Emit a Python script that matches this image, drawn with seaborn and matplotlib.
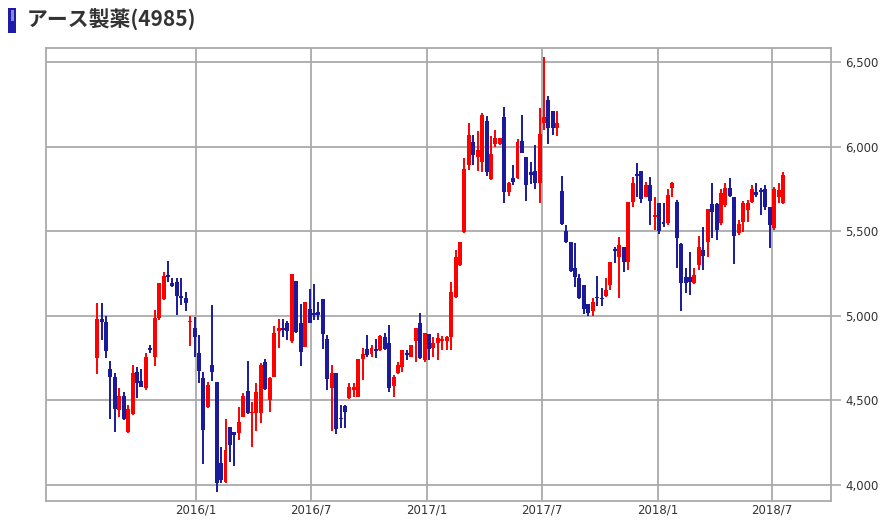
import numpy as np
import pandas as pd
import matplotlib
matplotlib.use("Agg")
import matplotlib.pyplot as plt
import matplotlib.dates as mdates
from matplotlib.patches import Rectangle
import seaborn as sns

# ---- data (weekly candles) ----
start_date = "2015-07-29"
opens = [4749, 4979, 4965, 4686, 4636, 4443, 4528, 4315, 4420, 4670, 4615, 4571, 4808, 4759, 4985, 5097, 5239, 5192, 5202, 5117,
         5107, 4962, 4930, 4782, 4631, 4459, 4709, 4607, 4128, 4020, 4341, 4311, 4305, 4404, 4558, 4424, 4424, 4424,
         4729, 4503, 4641, 4912, 4926, 4956, 4851, 5206, 4956, 4818, 5038, 5019, 5025, 5100, 4863, 4572, 4660, 4398, 4469,
         4512, 4562, 4522, 4743, 4802, 4775, 4802, 4798, 4873, 4841, 4585, 4660, 4700, 4778, 4759, 4851, 4960, 4739, 4893, 4808,
         4838, 4848, 4853, 4877,
         5113, 5300, 5497, 5891, 6029, 5941, 5911, 6153, 5807, 6015, 6015, 6177, 5734, 5813, 5813, 6035, 5941, 5852, 5858, 5783,
         6142, 6275, 6210, 6108, 5740, 5503, 5438, 5285, 5222, 5182, 5070, 5030, 5113, 5107, 5117,
         5182, 5395, 5346, 5405, 5320, 5675, 5836, 5858, 5704, 5773, 5586, 5665, 5553, 5547, 5753, 5675, 5425, 5231, 5231, 5196,
         5300, 5389, 5438, 5659, 5659, 5547, 5655, 5753, 5700, 5492, 5557, 5625, 5675, 5734, 5744, 5748, 5645, 5517, 5700, 5665]
highs = [5078, 5078, 5000, 4735, 4660, 4575, 4552, 4471, 4709, 4696, 4686, 4778, 4828, 5034, 5192, 5261, 5326, 5222, 5222, 5222,
         5139, 4999, 4991, 4887, 4670, 4611, 5064, 4611, 4227, 4388, 4341, 4315, 4463, 4542, 4735, 4493, 4601, 4719,
         4743, 4641, 4940, 4979, 4979, 4970, 5245, 5206, 5070, 5084, 5157, 5188, 5084, 5100, 4887, 4709, 4660, 4473, 4473,
         4605, 4605, 4743, 4808, 4887, 4828, 4861, 4887, 4900, 4946, 4650, 4729, 4798, 4798, 4828, 4926, 5019, 4897, 4893, 4877,
         4900, 4880, 4881, 5202,
         5389, 5438, 5931, 6142, 6069, 6092, 6197, 6181, 6063, 6098, 6049, 6236, 5793, 5891, 6043, 6187, 5941, 5907, 6010, 6226,
         6532, 6299, 6210, 6210, 5828, 5537, 5438, 5428, 5247, 5182, 5070, 5107, 5237, 5163, 5222,
         5316, 5409, 5468, 5405, 5675, 5822, 5901, 5858, 5793, 5822, 5704, 5665, 5669, 5748, 5793, 5685, 5428, 5281, 5379, 5281,
         5472, 5527, 5629, 5783, 5665, 5748, 5787, 5813, 5700, 5566, 5681, 5685, 5773, 5787, 5753, 5773, 5645, 5760, 5787, 5852]
lows = [4656, 4857, 4749, 4388, 4315, 4404, 4384, 4305, 4414, 4512, 4577, 4562, 4782, 4705, 4975, 5093, 5202, 5172, 5005, 5064,
        5030, 4824, 4759, 4601, 4122, 4453, 4617, 3961, 4010, 4010, 4138, 4112, 4266, 4404, 4420, 4227, 4320, 4365,
        4562, 4434, 4637, 4808, 4873, 4857, 4841, 4900, 4704, 4814, 4956, 4975, 4975, 4802, 4562, 4316, 4302, 4335, 4335,
        4507, 4518, 4518, 4621, 4755, 4759, 4749, 4794, 4798, 4548, 4522, 4656, 4670, 4739, 4755, 4729, 4745, 4729, 4739, 4759,
        4740, 4800, 4800, 4798,
        5103, 5294, 5491, 5862, 5891, 5858, 5852, 5826, 5803, 6000, 6010, 5669, 5708, 5773, 5809, 5960, 5679, 5779, 5748, 5669,
        6098, 6014, 6069, 6063, 5537, 5432, 5261, 5172, 5097, 5009, 5001, 5001, 5060, 5060, 5109,
        5153, 5310, 5103, 5261, 5271, 5645, 5704, 5665, 5700, 5537, 5507, 5484, 5523, 5537, 5704, 5281, 5030, 5137, 5123, 5190,
        5271, 5271, 5350, 5458, 5448, 5537, 5645, 5704, 5306, 5478, 5497, 5557, 5665, 5704, 5596, 5625, 5399, 5507, 5665, 5660]
closes = [4979, 4965, 4794, 4636, 4447, 4528, 4388, 4447, 4660, 4605, 4581, 4759, 4798, 4985, 5192, 5235, 5231, 5176, 5119, 5107,
          5074, 4971, 4873, 4674, 4325, 4591, 4666, 4010, 4030, 4207, 4237, 4296, 4374, 4528, 4424, 4433, 4552, 4709,
          4566, 4631, 4901, 4926, 4916, 4912, 5245, 4906, 4784, 5084, 4960, 5005, 5005, 4893, 4627, 4660, 4329, 4388, 4434,
          4577, 4581, 4743, 4772, 4769, 4808, 4794, 4881, 4802, 4572, 4640, 4709, 4798, 4768, 4828, 4926, 4749, 4897, 4802, 4841,
          4870, 4862, 4877, 5143,
          5350, 5434, 5868, 6069, 5950, 5980, 6187, 5852, 5956, 6049, 6049, 5734, 5787, 5793, 6029, 5964, 5773, 5832, 5783, 6075,
          6177, 6108, 6108, 6142, 5543, 5438, 5267, 5231, 5103, 5038, 5015, 5084, 5103, 5097, 5153,
          5316, 5385, 5419, 5320, 5675, 5783, 5828, 5690, 5773, 5681, 5596, 5503, 5543, 5714, 5783, 5458, 5192, 5192, 5202, 5241,
          5405, 5354, 5629, 5616, 5507, 5724, 5753, 5708, 5472, 5543, 5669, 5669, 5748, 5714, 5734, 5641, 5537, 5748, 5744, 5832]

y_ticks = [4000, 4500, 5000, 5500, 6000, 6500]
x_tick_dates = ["2016-01-01", "2016-07-01", "2017-01-01", "2017-07-01", "2018-01-01", "2018-07-01"]
x_tick_labels = ["2016/1", "2016/7", "2017/1", "2017/7", "2018/1", "2018/7"]
title = "アース製薬(4985)"

# ---- build frame ----
dates = pd.date_range(start_date, periods=len(opens), freq="7D")
df = pd.DataFrame({"date": dates, "open": opens, "high": highs, "low": lows, "close": closes})
df["up"] = df["close"] >= df["open"]
UP, DOWN = "#ff0000", "#1a1a9a"
df["color"] = np.where(df["up"], UP, DOWN)
df["bottom"] = df[["open", "close"]].min(axis=1)
df["height"] = (df["close"] - df["open"]).abs().clip(lower=10)

sns.set_theme(style="white")
plt.rcParams["font.family"] = ["DejaVu Sans"]

fig = plt.figure(figsize=(8.86, 5.23), dpi=100)
ax = fig.add_axes([46 / 886, 1 - 501 / 523, (831 - 46) / 886, (501 - 48) / 523])

grid_c = "#aaaaaa"
ax.vlines(df["date"], df["low"], df["high"], colors=df["color"], linewidth=1.4, zorder=3)
ax.bar(df["date"], df["height"], bottom=df["bottom"], width=6.3, color=df["color"], linewidth=0, zorder=4)

ax.set_ylim(3905, 6583)
ax.set_xlim(pd.Timestamp("2015-05-09"), pd.Timestamp("2018-10-02"))

ax.set_yticks(y_ticks)
ax.set_yticklabels([f"{v:,}" for v in y_ticks])
ax.yaxis.tick_right()
ax.set_xticks(pd.to_datetime(x_tick_dates))
ax.set_xticklabels(x_tick_labels)

ax.grid(True, color=grid_c, linewidth=1.3, zorder=0)
for s in ax.spines.values():
    s.set_color(grid_c)
    s.set_linewidth(1.3)
ax.tick_params(axis="y", which="both", right=True, left=False, length=7, width=1.2, color=grid_c,
               labelsize=8.5, labelcolor="#333333", pad=3)
ax.tick_params(axis="x", bottom=False, length=0, labelsize=8.5, labelcolor="#333333", pad=2)
ax.set_xlabel("")
ax.set_ylabel("")

# title with icon
fig.patches.append(Rectangle((8 / 886, 1 - 33 / 523), 8 / 886, 25 / 523, transform=fig.transFigure,
                             facecolor="#1c1ca8", edgecolor="none"))
fig.patches.append(Rectangle((10.5 / 886, 1 - 21 / 523), 3.5 / 886, 11 / 523, transform=fig.transFigure,
                             facecolor="#8a8ad0", edgecolor="none"))
fig.text(27 / 886, 1 - 20 / 523, title, fontsize=15, fontweight="bold", color="#333333",
         family=["Noto Sans CJK JP", "DejaVu Sans"], va="center", ha="left")

fig.savefig("out.png", dpi=100)
